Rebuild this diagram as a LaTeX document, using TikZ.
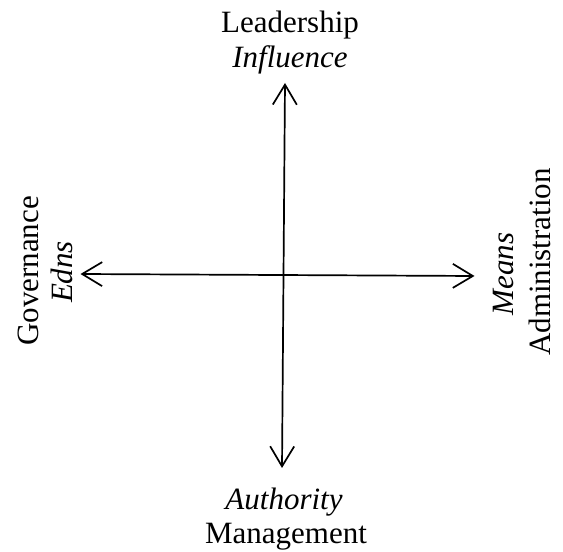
\documentclass[tikz,border=0pt]{standalone}
\usepackage{fontspec}
\setmainfont{Liberation Serif}
\usetikzlibrary{arrows.meta}
\begin{document}
\begin{tikzpicture}[x=1pt,y=1pt,
  lbl/.style={inner sep=0pt,anchor=base,font=\fontsize{31}{37}\selectfont},
  axis/.style={line width=1.7pt,{Straight Barb[length=20pt,width=24pt]}-{Straight Barb[length=20pt,width=24pt]}}]
\useasboundingbox (0,0) rectangle (563,552);
% axis end points
\coordinate (top) at (285,469);
\coordinate (bottom) at (282,84);
\coordinate (left) at (80.5,278);
\coordinate (right) at (474.5,276);
% the two double-headed axes
\draw[axis] (bottom) -- (top);
\draw[axis] (left) -- (right);
% labels at the four ends
\node[lbl] (lead) at (290,519) {Leadership};
\node[lbl] (infl) at (290,484) {\textit{Influence}};
\node[lbl] (auth) at (284,42) {\textit{Authority}};
\node[lbl] (mgmt) at (286,8) {Management};
\node[lbl,rotate=90] (gov) at (38,281) {Governance};
\node[lbl,rotate=90] (edns) at (72,280) {\textit{Edns}};
\node[lbl,rotate=90] (means) at (513,278) {\textit{Means}};
\node[lbl,rotate=90] (admin) at (550,290) {Administration};
\end{tikzpicture}
\end{document}
